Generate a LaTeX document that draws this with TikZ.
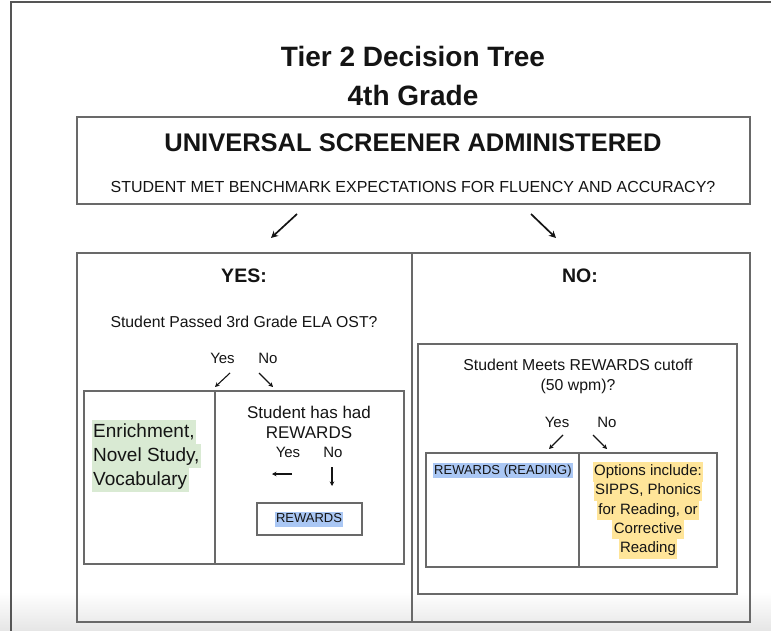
\documentclass[tikz,border=0pt]{standalone}
\usepackage{fontspec}
\setmainfont{Liberation Sans}
\usetikzlibrary{arrows.meta}
\definecolor{linegray}{RGB}{105,105,105}
\definecolor{framegray}{RGB}{85,85,85}
\definecolor{txt}{RGB}{20,20,20}
\definecolor{hlgreen}{RGB}{217,234,211}
\definecolor{hlblue}{RGB}{170,199,244}
\definecolor{hlyellow}{RGB}{255,229,153}
\tikzset{
  boxline/.style={draw=linegray, line width=1.5pt},
  txtnode/.style={inner sep=0pt, anchor=base, text=txt},
  bigarrow/.style={draw=txt, line width=1.7pt, -{Stealth[length=7pt,width=7pt]}},
  smallarrow/.style={draw=txt, line width=1.1pt, -{Stealth[length=4.5pt,width=4.5pt]}},
  greenhl/.style={fill=hlgreen, inner xsep=1.5pt, inner ysep=2pt, text height=15pt, text depth=5pt, anchor=north west, text=txt, font=\fontsize{19}{19}\selectfont},
  yellowhl/.style={fill=hlyellow, inner xsep=1.5pt, inner ysep=1.9pt, text height=11.5pt, text depth=4pt, anchor=north, text=txt, font=\fontsize{15}{15}\selectfont},
  bluehl/.style={fill=hlblue, inner xsep=1pt, inner ysep=1.5pt, text height=9.5pt, text depth=2.5pt, text=txt, font=\fontsize{13}{13}\selectfont},
}
\begin{document}
\begin{tikzpicture}[x=1pt,y=-1pt]
\useasboundingbox (0,0) rectangle (771,631);
% bottom soft shading
\shade[top color=white, bottom color=black!10] (0,592) rectangle (771,631);
% outer frame
\draw[framegray, line width=2.2pt] (11,631) -- (11,1.7) -- (771,1.7);

% title
\node[txtnode, font=\bfseries\fontsize{28}{28}\selectfont] (title1) at (413,67) {Tier 2 Decision Tree};
\node[txtnode, font=\bfseries\fontsize{28}{28}\selectfont] (title2) at (413,106) {4th Grade};

% top box
\draw[boxline] (77,117) rectangle (750,204);
\node[txtnode, font=\bfseries\fontsize{25.5}{25.5}\selectfont] (usa) at (413,152) {UNIVERSAL SCREENER ADMINISTERED};
\node[txtnode, font=\fontsize{16}{16}\selectfont] (q1) at (413,193) {STUDENT MET BENCHMARK EXPECTATIONS FOR FLUENCY AND ACCURACY?};

% big arrows
\coordinate (a1s) at (297,214); \coordinate (a1e) at (271,238);
\coordinate (a2s) at (531,214); \coordinate (a2e) at (556,238);
\draw[bigarrow] (a1s) -- (a1e);
\draw[bigarrow] (a2s) -- (a2e);

% big box
\draw[boxline] (77,253) rectangle (750,622);
\draw[boxline] (412,253) -- (412,622);

% YES side
\node[txtnode, font=\bfseries\fontsize{19.5}{19.5}\selectfont] (yes) at (244,282) {YES:};
\node[txtnode, font=\fontsize{15.8}{15.8}\selectfont] (q2) at (244,327) {Student Passed 3rd Grade ELA OST?};
\node[txtnode, font=\fontsize{15}{15}\selectfont] (y2) at (222.5,363) {Yes};
\node[txtnode, font=\fontsize{15}{15}\selectfont] (n2) at (268,363) {No};
\coordinate (b1s) at (230,373); \coordinate (b1e) at (215,387);
\coordinate (b2s) at (259,373); \coordinate (b2e) at (273,387);
\draw[smallarrow] (b1s) -- (b1e);
\draw[smallarrow] (b2s) -- (b2e);

\draw[boxline] (84,391) rectangle (404,564);
\draw[boxline] (215,391) -- (215,564);
\node[greenhl] (en1) at (91.5,420) {Enrichment,};
\node[greenhl] (en2) at (91.5,444) {Novel Study,};
\node[greenhl] (en3) at (91.5,468) {Vocabulary};

\node[txtnode, font=\fontsize{17}{17}\selectfont] (shh) at (309,418) {Student has had};
\node[txtnode, font=\fontsize{17}{17}\selectfont] (shr) at (309,438) {REWARDS};
\node[txtnode, font=\fontsize{15}{15}\selectfont] (y3) at (288,457) {Yes};
\node[txtnode, font=\fontsize{15}{15}\selectfont] (n3) at (333,457) {No};
\coordinate (c1s) at (292,474); \coordinate (c1e) at (272,474);
\coordinate (c2s) at (332,467); \coordinate (c2e) at (332,486);
\draw[smallarrow] (c1s) -- (c1e);
\draw[smallarrow] (c2s) -- (c2e);
\draw[boxline] (257,503) rectangle (362,535);
\node[bluehl] (rw) at (309,519) {REWARDS};

% NO side
\node[txtnode, font=\bfseries\fontsize{19.5}{19.5}\selectfont] (no) at (580,282) {NO:};
\draw[boxline] (418,344) rectangle (737,594);
\node[txtnode, font=\fontsize{15.8}{15.8}\selectfont] (q3) at (578,370) {Student Meets REWARDS cutoff};
\node[txtnode, font=\fontsize{15.8}{15.8}\selectfont] (q3b) at (578,390) {(50 wpm)?};
\node[txtnode, font=\fontsize{15}{15}\selectfont] (y4) at (557,427) {Yes};
\node[txtnode, font=\fontsize{15}{15}\selectfont] (n4) at (607,427) {No};
\coordinate (d1s) at (563,435); \coordinate (d1e) at (549,449);
\coordinate (d2s) at (593,435); \coordinate (d2e) at (607,449);
\draw[smallarrow] (d1s) -- (d1e);
\draw[smallarrow] (d2s) -- (d2e);

\draw[boxline] (426,453) rectangle (717,567);
\draw[boxline] (579,453) -- (579,567);
\node[bluehl, anchor=north west] (rwr) at (433,463) {REWARDS (READING)};
\node[yellowhl] (op1) at (648,462) {Options include:};
\node[yellowhl] (op2) at (648,481.3) {SIPPS, Phonics};
\node[yellowhl] (op3) at (648,500.6) {for Reading, or};
\node[yellowhl] (op4) at (648,519.9) {Corrective};
\node[yellowhl] (op5) at (648,539.2) {Reading};
\end{tikzpicture}
\end{document}
